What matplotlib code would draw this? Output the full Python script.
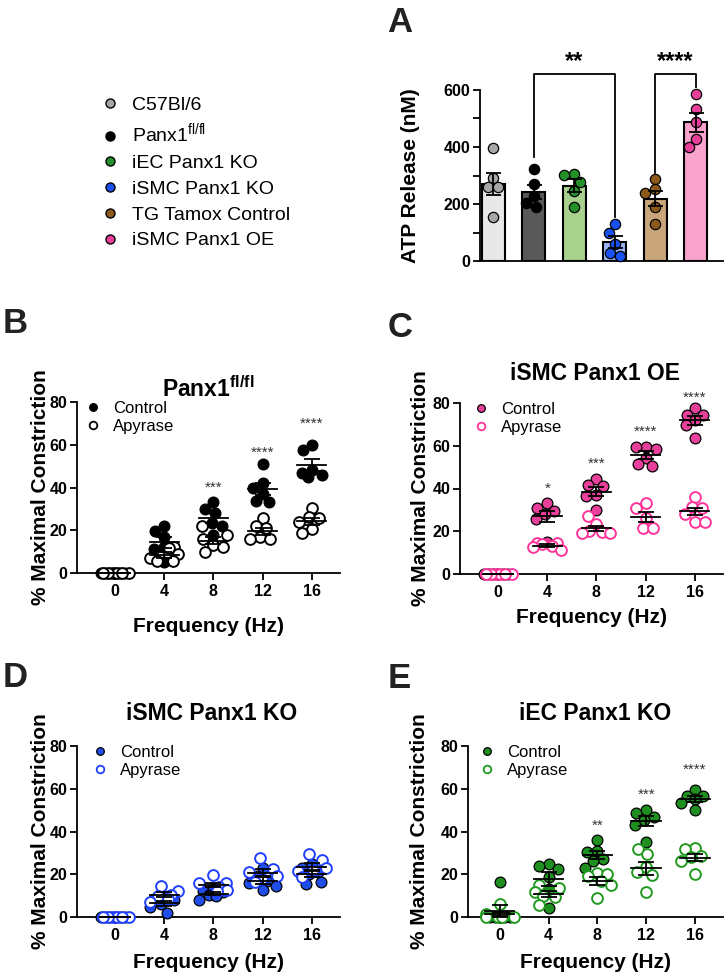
import numpy as np
import matplotlib.pyplot as plt
from matplotlib.lines import Line2D

plt.rcParams['font.family'] = 'Liberation Sans'
plt.rcParams['mathtext.fontset'] = 'custom'
plt.rcParams['mathtext.rm'] = 'Liberation Sans'
plt.rcParams['mathtext.bf'] = 'Liberation Sans:bold'
plt.rcParams['axes.linewidth'] = 1.3

# ---------------- data ----------------
strains = ['C57Bl/6', 'Panx1$^{\\mathrm{fl/fl}}$', 'iEC Panx1 KO',
           'iSMC Panx1 KO', 'TG Tamox Control', 'iSMC Panx1 OE']
dot_colors = ['#a6a6a6', '#000000', '#23902a', '#1a50f0', '#8b5a1b', '#e8409a']
bar_colors = ['#e8e8e8', '#595959', '#a9d18e', '#9cb6f5', '#c9a67a', '#f9a3cc']

atp_c57 = [395, 290, 258, 258, 155]
atp_panx = [322, 270, 228, 205, 190]
atp_iec = [307, 303, 278, 246, 190]
atp_ismc_ko = [129, 100, 59, 28, 16]
atp_tg = [287, 251, 237, 190, 129]
atp_oe = [585, 533, 486, 427, 401]

freqs = [0, 4, 8, 12, 16]

panx_ctrl = [[0] * 6, [22, 19.5, 17, 12, 11, 5], [33, 30, 28, 23.5, 22, 18],
             [51, 42, 40, 37, 33.5, 33], [60, 57.5, 48, 47, 46, 45]]
panx_apy = [[0] * 6, [12, 11.5, 9, 7, 5.5, 5.5], [22, 18, 16, 13, 12, 10],
            [25.5, 22, 21, 17, 16, 16], [30.5, 26, 25.5, 24, 20.5, 18.5]]
panx_stars = ['', '', '***', '****', '****']
panx_star_y = [0, 0, 42, 58.5, 72]

oe_ctrl = [[0] * 6, [33, 31, 29.5, 28, 25.5, 15], [44.5, 41.5, 41, 37, 36.5, 30],
           [59.5, 59.5, 58.5, 54.5, 51.5, 50.5], [77.5, 74.5, 74.5, 72, 69.5, 63.5]]
oe_apy = [[0] * 6, [14.5, 14.5, 14, 13, 12.5, 11], [27, 23.5, 20, 19.5, 19, 19],
          [33, 31, 26, 21.5, 21.5], [36, 31.5, 31, 28, 24.5, 24.5]]
oe_stars = ['', '*', '***', '****', '****']
oe_star_y = [0, 41.8, 53.5, 68.6, 84.7]

ko_ctrl = [[0] * 6, [10, 8.5, 8, 6, 4.5, 2], [13, 12, 11.5, 10.5, 10, 8],
           [23, 19, 17, 16, 14.5, 12.5], [25, 23, 21, 20, 16.5, 15.5]]
ko_apy = [[0] * 6, [14.5, 12, 10.5, 10, 8.5, 7], [19.5, 16, 16, 14, 12.5, 12],
          [27.5, 22.5, 21, 19, 18, 16.5], [29.5, 26.5, 23, 22, 21.5, 18.5]]
ko_stars = ['', '', '', '', '']
ko_star_y = [0, 0, 0, 0, 0]

iec_ctrl = [[16.5, 0, 0, 0, 0, 0], [24.7, 24, 22.5, 18.7, 13, 4],
            [36, 31, 30.5, 27, 26, 23], [50, 48.5, 47, 45.5, 43, 35],
            [59.5, 56.5, 56.5, 55, 53.5, 50]]
iec_apy = [[6, 1.5, 0, 0, 0, 0], [15, 13.5, 11.5, 10, 9.5, 5.5],
           [20.5, 20, 19, 17, 15, 9], [32, 29.5, 23.5, 21, 19.5, 11.5],
           [32.5, 32, 28.5, 28, 26, 20]]
iec_stars = ['', '', '**', '***', '****']
iec_star_y = [0, 0, 44.8, 59.4, 71]

W, H = 726, 975
fig = plt.figure(figsize=(W / 100, H / 100), dpi=100)


def px_axes(left, right, top, bottom):
    return fig.add_axes([left / W, 1 - bottom / H, (right - left) / W, (bottom - top) / H])


def swarm(vals, xpx, ypx, diam, maxoff, placed=None):
    # simple beeswarm: offsets in data units
    placed = [] if placed is None else list(placed)
    cands = [0.0]
    for s in np.arange(1, maxoff + 0.5, 1.0):
        cands += [-s, s]
    offs = []
    for v in vals:
        y = v * ypx
        best, bestd = 0.0, -1
        for c in cands:
            d = min([np.hypot(c - px, y - py) for px, py in placed], default=1e9)
            if d >= diam:
                best = c
                break
            if d > bestd:
                best, bestd = c, d
        placed.append((best, y))
        offs.append(best / xpx)
    return np.array(offs), placed


def sem(v):
    return np.std(v, ddof=1) / np.sqrt(len(v))


def bold_ticks(ax):
    for t in ax.get_xticklabels() + ax.get_yticklabels():
        t.set_fontweight('bold')


# ---------------- panel A ----------------
axA = px_axes(480, 723, 90, 261)
atp = [atp_c57, atp_panx, atp_iec, atp_ismc_ko, atp_tg, atp_oe]
xs = np.arange(len(atp))
means = [np.mean(v) for v in atp]
axA.bar(xs, means, width=0.57, color=bar_colors, edgecolor='black', linewidth=1.5, zorder=1)
for i, vals in enumerate(atp):
    offs, _ = swarm(vals, 40.5, 171 / 600, 10, 10)
    axA.scatter(xs[i] + offs, vals, s=55, facecolor=dot_colors[i], edgecolor='black',
                linewidth=0.9, zorder=3, clip_on=False)
    axA.errorbar(xs[i], means[i], yerr=sem(vals), color='black', lw=1.3, capsize=5.4,
                 capthick=1.3, zorder=4)
axA.set_xlim(-0.33, 5.67)
axA.set_ylim(0, 600)
axA.set_yticks([0, 200, 400, 600])
axA.set_yticks([100, 300, 500], minor=True)
axA.set_xticks([])
axA.spines[['top', 'right']].set_visible(False)
axA.tick_params(axis='y', which='both', width=1.3, length=5, labelsize=11.5, pad=2)
bold_ticks(axA)
axA.text(-0.288, 0.5, 'ATP Release (nM)', rotation=90, ha='center', va='center',
         fontsize=15, fontweight='bold', transform=axA.transAxes)

# significance brackets
br_y = 656
for (a, b, ya, yb, lab) in [(1, 3, 366, 155, '**'), (4, 5, 308, 610, '****')]:
    axA.plot([a, a, b, b], [ya, br_y, br_y, yb], color='black', lw=1.3, clip_on=False)
    axA.text((a + b) / 2, 676, lab, ha='center', va='baseline', fontsize=17,
             fontweight='bold', clip_on=False)

# strain legend
handles = [Line2D([], [], ls='', marker='o', ms=6.5, mfc=c, mec='black', mew=1)
           for c in dot_colors]
fig.legend(handles, strains, loc='upper left', bbox_to_anchor=(102 / W, 1 - 96 / H),
           frameon=False, fontsize=14, handlelength=0.8, handletextpad=0.74,
           labelspacing=0.42, borderpad=0, borderaxespad=0)


# ---------------- frequency panels ----------------
def freq_panel(box, xlim, ctrl, apy, fill, open_edge, stars, star_y, title,
               title_pos, xlab_y, ylab_x, leg_x):
    ax = px_axes(*box)
    wpx = box[1] - box[0]
    xpx = wpx / (xlim[1] - xlim[0])
    ypx = (box[3] - box[2]) / 80
    for i, f in enumerate(freqs):
        oc, placed = swarm(ctrl[i], xpx, ypx, 10, 14)
        oa, _ = swarm(apy[i], xpx, ypx, 10, 14, placed)
        ax.scatter(f + oc, ctrl[i], s=60, facecolor=fill, edgecolor='black',
                   linewidth=0.9, zorder=3, clip_on=False)
        ax.scatter(f + oa, apy[i], s=60, facecolor='white', edgecolor=open_edge,
                   linewidth=1.4, zorder=4, clip_on=False)
        for vals in (ctrl[i], apy[i]):
            m = np.mean(vals)
            ax.plot([f - 1.2, f + 1.2], [m, m], color='black', lw=1.3, zorder=5,
                    clip_on=False)
            ax.errorbar(f, m, yerr=sem(vals), color='black', lw=1.3, capsize=6,
                        capthick=1.3, zorder=5)
        if stars[i]:
            ax.text(f, star_y[i] - 4, stars[i], ha='center', va='baseline',
                    fontsize=11, color='#333333', clip_on=False)
    ax.set_xlim(*xlim)
    ax.set_ylim(0, 80)
    ax.set_xticks(freqs)
    ax.set_yticks([0, 20, 40, 60, 80])
    ax.spines[['top', 'right']].set_visible(False)
    ax.tick_params(width=1.3, length=5, labelsize=11.5)
    ax.tick_params(axis='y', pad=2)
    ax.tick_params(axis='x', pad=3)
    bold_ticks(ax)
    ax.text(title_pos[0], title_pos[1], title, ha='center', va='baseline',
            fontsize=16.5, fontweight='bold', transform=ax.transAxes)
    ax.text(0.5, xlab_y, 'Frequency (Hz)', ha='center', va='center', fontsize=15,
            fontweight='bold', transform=ax.transAxes)
    ax.text(ylab_x, 0.5, '% Maximal Constriction', rotation=90, ha='center',
            va='center', fontsize=15, fontweight='bold', transform=ax.transAxes)
    hs = [Line2D([], [], ls='', marker='o', ms=5.5, mfc=fill, mec='black', mew=0.9),
          Line2D([], [], ls='', marker='o', ms=5.5, mfc='white', mec=open_edge, mew=1.3)]
    ax.legend(hs, ['Control', 'Apyrase'], loc='upper left', bbox_to_anchor=(leg_x, 1.007),
              frameon=False, fontsize=12, handlelength=0.8, handletextpad=0.8,
              labelspacing=0.18, borderpad=0, borderaxespad=0)
    return ax


freq_panel((77, 340, 402, 573), (-3.1, 18.3), panx_ctrl, panx_apy, 'black', 'black',
           panx_stars, panx_star_y, 'Panx1$^{\\mathbf{fl/fl}}$', (0.5, 1.029),
           -0.31, -0.137, 0.035)
freq_panel((460, 723, 403, 574), (-3.1, 18.3), oe_ctrl, oe_apy, '#e8409a', '#ff3399',
           oe_stars, oe_star_y, 'iSMC Panx1 OE', (0.513, 1.135),
           -0.257, -0.152, 0.054)
freq_panel((77, 340, 746, 917), (-3.1, 18.3), ko_ctrl, ko_apy, '#1f4fe8', '#1f3fff',
           ko_stars, ko_star_y, 'iSMC Panx1 KO', (0.513, 1.152),
           -0.269, -0.137, 0.062)
freq_panel((468, 723, 746, 917), (-2.6, 18.3), iec_ctrl, iec_apy, '#1f8f1f', '#1f9a1f',
           iec_stars, iec_star_y, 'iEC Panx1 KO', (0.5, 1.152),
           -0.269, -0.192, 0.048)

# panel letters
for lab, x, y in [('A', 387, 32), ('B', 3, 333), ('C', 388, 337), ('D', 3, 687), ('E', 388, 688)]:
    fig.text(x / W, 1 - y / H, lab, fontsize=25, fontweight='bold', color='#222222',
             ha='left', va='baseline')

fig.savefig('out.png', dpi=100)
